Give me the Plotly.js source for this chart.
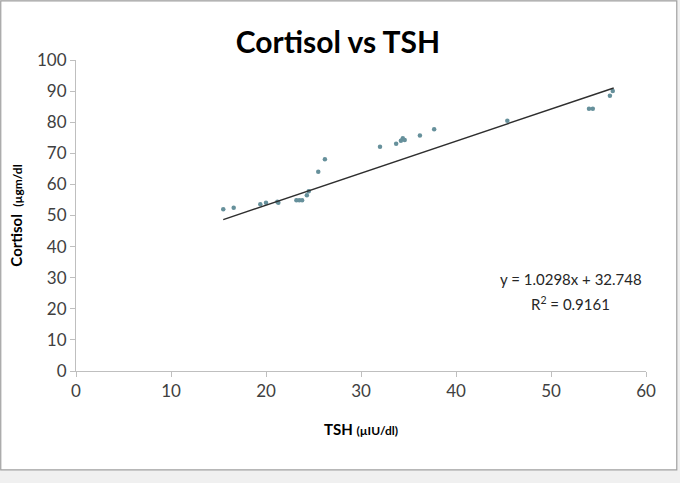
<!DOCTYPE html>
<html>
<head>
<meta charset="utf-8">
<script src="https://cdn.plot.ly/plotly-3.0.1.min.js"></script>
<style>
	html,body{margin:0;padding:0;background:#f0f0f0;}
	#chart{width:680px;height:483px;}
</style>
</head>
<body>
<div id="chart"></div>
<script>
// TSH (x) and cortisol (y)
var tsh      = [15.5, 16.6, 19.4, 20.0, 21.2, 21.3, 23.2, 23.5, 23.8, 24.3, 24.5, 25.5, 26.2, 32.0, 33.7, 34.2, 34.4, 34.6, 36.2, 37.7, 45.4, 54.0, 54.4, 56.2, 56.5];
var cortisol = [52.0, 52.5, 53.6, 54.1, 54.4, 54.1, 54.9, 54.9, 54.9, 56.5, 57.8, 64.1, 68.1, 72.1, 73.1, 74.0, 74.8, 74.3, 75.7, 77.7, 80.5, 84.3, 84.3, 88.5, 90.0];

// ends of the linear trendline as drawn
var trendX = [15.5, 56.6];
var trendY = [48.7, 91.0];

var eqText = 'y = 1.0298x + 32.748';
var r2Text = 'R<sup>2</sup> = 0.9161';

var font = 'Lato, "Open Sans", sans-serif';
var axisColor = '#bfbfbf';

var data = [
	{
		type: 'scatter',
		mode: 'markers',
		x: tsh,
		y: cortisol,
		marker: {color: '#66909b', size: 4.5},
		hoverinfo: 'x+y'
	},
	{
		type: 'scatter',
		mode: 'lines',
		x: trendX,
		y: trendY,
		line: {color: '#2e2e2e', width: 1.4},
		hoverinfo: 'skip'
	}
];

var layout = {
	width: 680,
	height: 483,
	margin: {l: 76, r: 34, t: 60, b: 112, pad: 0},
	paper_bgcolor: '#f0f0f0',
	plot_bgcolor: 'rgba(0,0,0,0)',
	showlegend: false,
	font: {family: font, color: '#404040'},
	title: {
		text: '<b>Cortisol vs TSH</b>',
		font: {family: font, size: 30, color: '#000000'},
		x: 0.497, xanchor: 'center',
		y: 0.912, yanchor: 'middle'
	},
	xaxis: {
		range: [0, 60],
		dtick: 10,
		showgrid: false,
		zeroline: false,
		showline: true,
		linecolor: axisColor,
		linewidth: 1,
		ticks: 'outside',
		ticklen: 5,
		tickcolor: axisColor,
		tickfont: {family: font, size: 17, color: '#404040'},
		title: {
			text: '<b>TSH <span style="font-size:12px">(µIU/dl)</span></b>',
			font: {family: font, size: 15, color: '#000000'},
			standoff: 24
		}
	},
	yaxis: {
		range: [0, 100],
		dtick: 10,
		showgrid: false,
		zeroline: false,
		showline: true,
		linecolor: axisColor,
		linewidth: 1,
		ticks: 'outside',
		ticklen: 5,
		tickcolor: axisColor,
		tickfont: {family: font, size: 17, color: '#404040'},
		title: {
			text: '<b>Cortisol  <span style="font-size:12px">(µgm/dl</span></b>',
			font: {family: font, size: 15, color: '#000000'},
			standoff: 10
		}
	},
	annotations: [
		{xref: 'paper', yref: 'paper', x: 0.868, y: 0.295, text: eqText, showarrow: false,
			font: {family: font, size: 15, color: '#262626'}, xanchor: 'center', yanchor: 'middle'},
		{xref: 'paper', yref: 'paper', x: 0.868, y: 0.218, text: r2Text, showarrow: false,
			font: {family: font, size: 15, color: '#262626'}, xanchor: 'center', yanchor: 'middle'}
	],
	shapes: [
		// white chart frame with grey border
		{type: 'rect', xref: 'paper', yref: 'paper', layer: 'below',
			x0: -0.132, x1: 1.054, y0: -0.318, y1: 1.19,
			fillcolor: '#ffffff', line: {color: '#a0a0a0', width: 1.2}}
	]
};

Plotly.newPlot('chart', data, layout, {displayModeBar: false});
</script>
</body>
</html>
